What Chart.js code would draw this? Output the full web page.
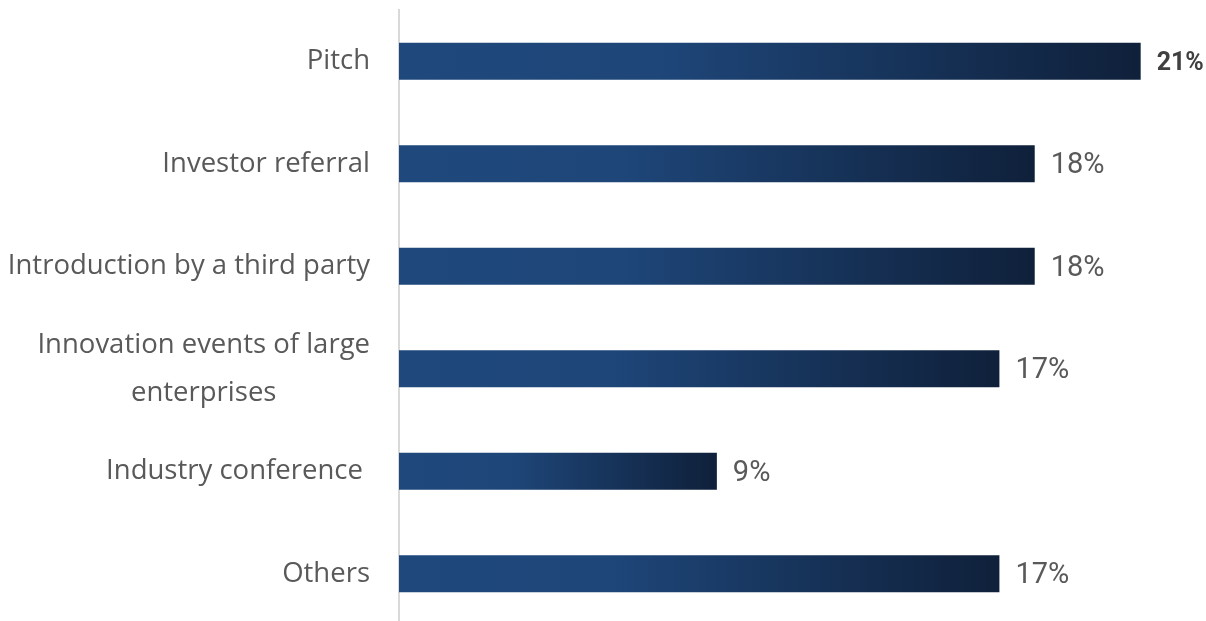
<!DOCTYPE html>
<html>
<head>
<meta charset="utf-8">
<script src="https://cdn.jsdelivr.net/npm/chart.js@4"></script>
<style>
  html, body { margin: 0; padding: 0; background: #fff; overflow: hidden; }
  #wrap { width: 1206px; height: 625px; }
</style>
</head>
<body>
<div id="wrap"><canvas id="chart"></canvas></div>
<script>
// sources of first contact, share of respondents (%)
const categories = [
  ['Pitch'],
  ['Investor referral'],
  ['Introduction by a third party'],
  ['Innovation events of large', 'enterprises'],
  ['Industry conference '],
  ['Others']
];
const shares = [21, 18, 18, 17, 9, 17];
const boldLabel = [true, false, false, false, false, false];

// left-to-right fade on each bar, light navy to almost black
function barGradient(ctx) {
  const chart = ctx.chart;
  const area = chart.chartArea;
  if (!area) return '#1f487c';
  const xs = chart.scales.x;
  const x0 = xs.getPixelForValue(0);
  const x1 = xs.getPixelForValue(shares[ctx.dataIndex]);
  const g = chart.ctx.createLinearGradient(x0, 0, x1, 0);
  g.addColorStop(0, '#1f487c');
  g.addColorStop(0.35, '#1e4679');
  g.addColorStop(1, '#0f203a');
  return g;
}

// category names on the left, each block right aligned, lines centred in it
const categoryLabels = {
  id: 'categoryLabels',
  afterDraw(chart) {
    const ctx = chart.ctx;
    const ys = chart.scales.y;
    const right = chart.chartArea.left - 29;
    const lineH = 48;
    ctx.save();
    ctx.font = '27.5px "Open Sans", sans-serif';
    ctx.fillStyle = '#595959';
    ctx.textBaseline = 'middle';
    categories.forEach((lines, i) => {
      const y = ys.getPixelForValue(i);
      const widths = lines.map(l => ctx.measureText(l).width);
      const blockW = Math.max(...widths);
      const cx = right - blockW / 2;
      ctx.textAlign = 'center';
      lines.forEach((l, k) => {
        const ly = y + (k - (lines.length - 1) / 2) * lineH;
        ctx.fillText(l, cx, ly);
      });
    });
    ctx.restore();
  }
};

// percentage printed just past the end of each bar
const valueLabels = {
  id: 'valueLabels',
  afterDatasetsDraw(chart) {
    const ctx = chart.ctx;
    const meta = chart.getDatasetMeta(0);
    ctx.save();
    ctx.textAlign = 'left';
    ctx.textBaseline = 'middle';
    meta.data.forEach((bar, i) => {
      ctx.font = boldLabel[i] ? 'bold 25px Roboto, sans-serif' : '29px Roboto, sans-serif';
      ctx.fillStyle = boldLabel[i] ? '#404040' : '#595959';
      ctx.fillText(shares[i] + '%', bar.x + 16, bar.y + 2);
    });
    ctx.restore();
  }
};

new Chart(document.getElementById('chart'), {
  type: 'bar',
  data: {
    labels: categories,
    datasets: [{
      data: shares,
      backgroundColor: barGradient,
      borderWidth: 0,
      categoryPercentage: 1,
      barPercentage: 0.362
    }]
  },
  options: {
    indexAxis: 'y',
    responsive: true,
    maintainAspectRatio: false,
    animation: false,
    layout: { padding: { top: 10, right: 30, bottom: 0, left: 0 } },
    plugins: { legend: { display: false }, tooltip: { enabled: false } },
    scales: {
      x: { display: false, min: 0, max: 22 },
      y: {
        grid: { display: false },
        border: { display: true, color: '#d9d9d9', width: 2 },
        ticks: { display: false },
        afterFit(scale) { scale.width = 399; }
      }
    }
  },
  plugins: [categoryLabels, valueLabels]
});
</script>
</body>
</html>
